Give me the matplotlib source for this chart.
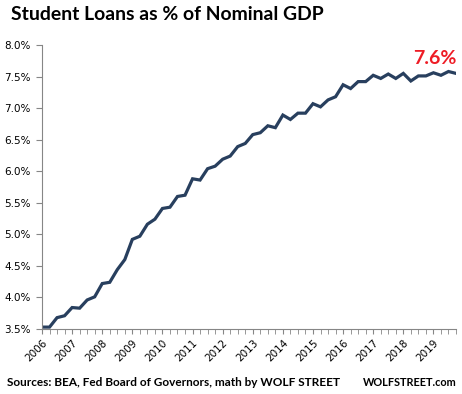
import numpy as np
import matplotlib.pyplot as plt
from matplotlib.ticker import FixedLocator, FuncFormatter

# quarterly student loans as % of nominal GDP, 2006Q1 - 2019Q4
years = list(range(2006, 2020))
loans_pct = [
    3.53, 3.53, 3.68, 3.71, 3.84, 3.83, 3.96, 4.01, 4.22, 4.24,
    4.44, 4.60, 4.92, 4.97, 5.16, 5.24, 5.41, 5.43, 5.60, 5.62,
    5.88, 5.86, 6.04, 6.08, 6.19, 6.24, 6.39, 6.44, 6.58, 6.61,
    6.72, 6.69, 6.89, 6.82, 6.92, 6.92, 7.07, 7.02, 7.13, 7.18,
    7.37, 7.31, 7.42, 7.42, 7.52, 7.47, 7.54, 7.47, 7.55, 7.43,
    7.51, 7.51, 7.56, 7.52, 7.58, 7.55,
]
last_label = "7.6%"

W, H = 462, 394
fig = plt.figure(figsize=(W / 100, H / 100), dpi=100)
ax = fig.add_axes([42 / W, 1 - 329 / H, (456 - 42) / W, (329 - 45) / H])

x = np.arange(len(loans_pct))
ax.plot(x, loans_pct, color="#283f5e", lw=2.3, solid_joinstyle="miter")

ax.set_xlim(0, len(loans_pct) - 1)
ax.set_ylim(3.5, 8.0)
ax.set_yticks(np.arange(3.5, 8.01, 0.5))
ax.yaxis.set_major_formatter(FuncFormatter(lambda v, _: f"{v:.1f}%"))

ax.xaxis.set_major_locator(FixedLocator(range(0, len(loans_pct), 4)))
ax.xaxis.set_minor_locator(FixedLocator(range(len(loans_pct))))
ax.set_xticklabels([str(y) for y in years])
for lbl in ax.get_xticklabels():
    lbl.set_rotation(45)
    lbl.set_ha("right")
    lbl.set_va("top")
    lbl.set_rotation_mode("anchor")

gray = "#868686"
for s in ["top", "right"]:
    ax.spines[s].set_visible(False)
for s in ["left", "bottom"]:
    ax.spines[s].set_color(gray)
    ax.spines[s].set_linewidth(0.8)
ax.tick_params(axis="y", direction="out", length=4, color=gray, labelsize=7.5, pad=4)
ax.tick_params(axis="x", which="both", direction="out", length=3.5, color=gray,
               labelsize=7.5, pad=3)

ax.text(len(loans_pct) - 1, 7.78, last_label, color="#ee1c25", fontsize=14,
        fontweight="bold", family="Lato", ha="right", va="center", clip_on=False)

title = fig.text(11 / W, 1 - 14 / H, "Student Loans as % of Nominal GDP", fontsize=14,
                 fontweight="bold", family="Lato", ha="left", va="center")
src = fig.text(7 / W, 1 - 383 / H, "Sources: BEA, Fed Board of Governors, math by WOLF STREET",
               fontsize=9, fontweight="bold", family="Lato", ha="left", va="center")
site = fig.text(457 / W, 1 - 383 / H, "WOLFSTREET.com", fontsize=9, fontweight="bold",
                family="Lato", ha="right", va="center")


def fit_width(txt, px):
    # resize a text so its rendered width is about px pixels
    r = fig.canvas.get_renderer()
    for _ in range(3):
        w = txt.get_window_extent(r).width
        txt.set_fontsize(txt.get_fontsize() * px / w)


fit_width(title, 314)
fit_width(src, 331)
fit_width(site, 94)

fig.savefig("out.png", dpi=100)
